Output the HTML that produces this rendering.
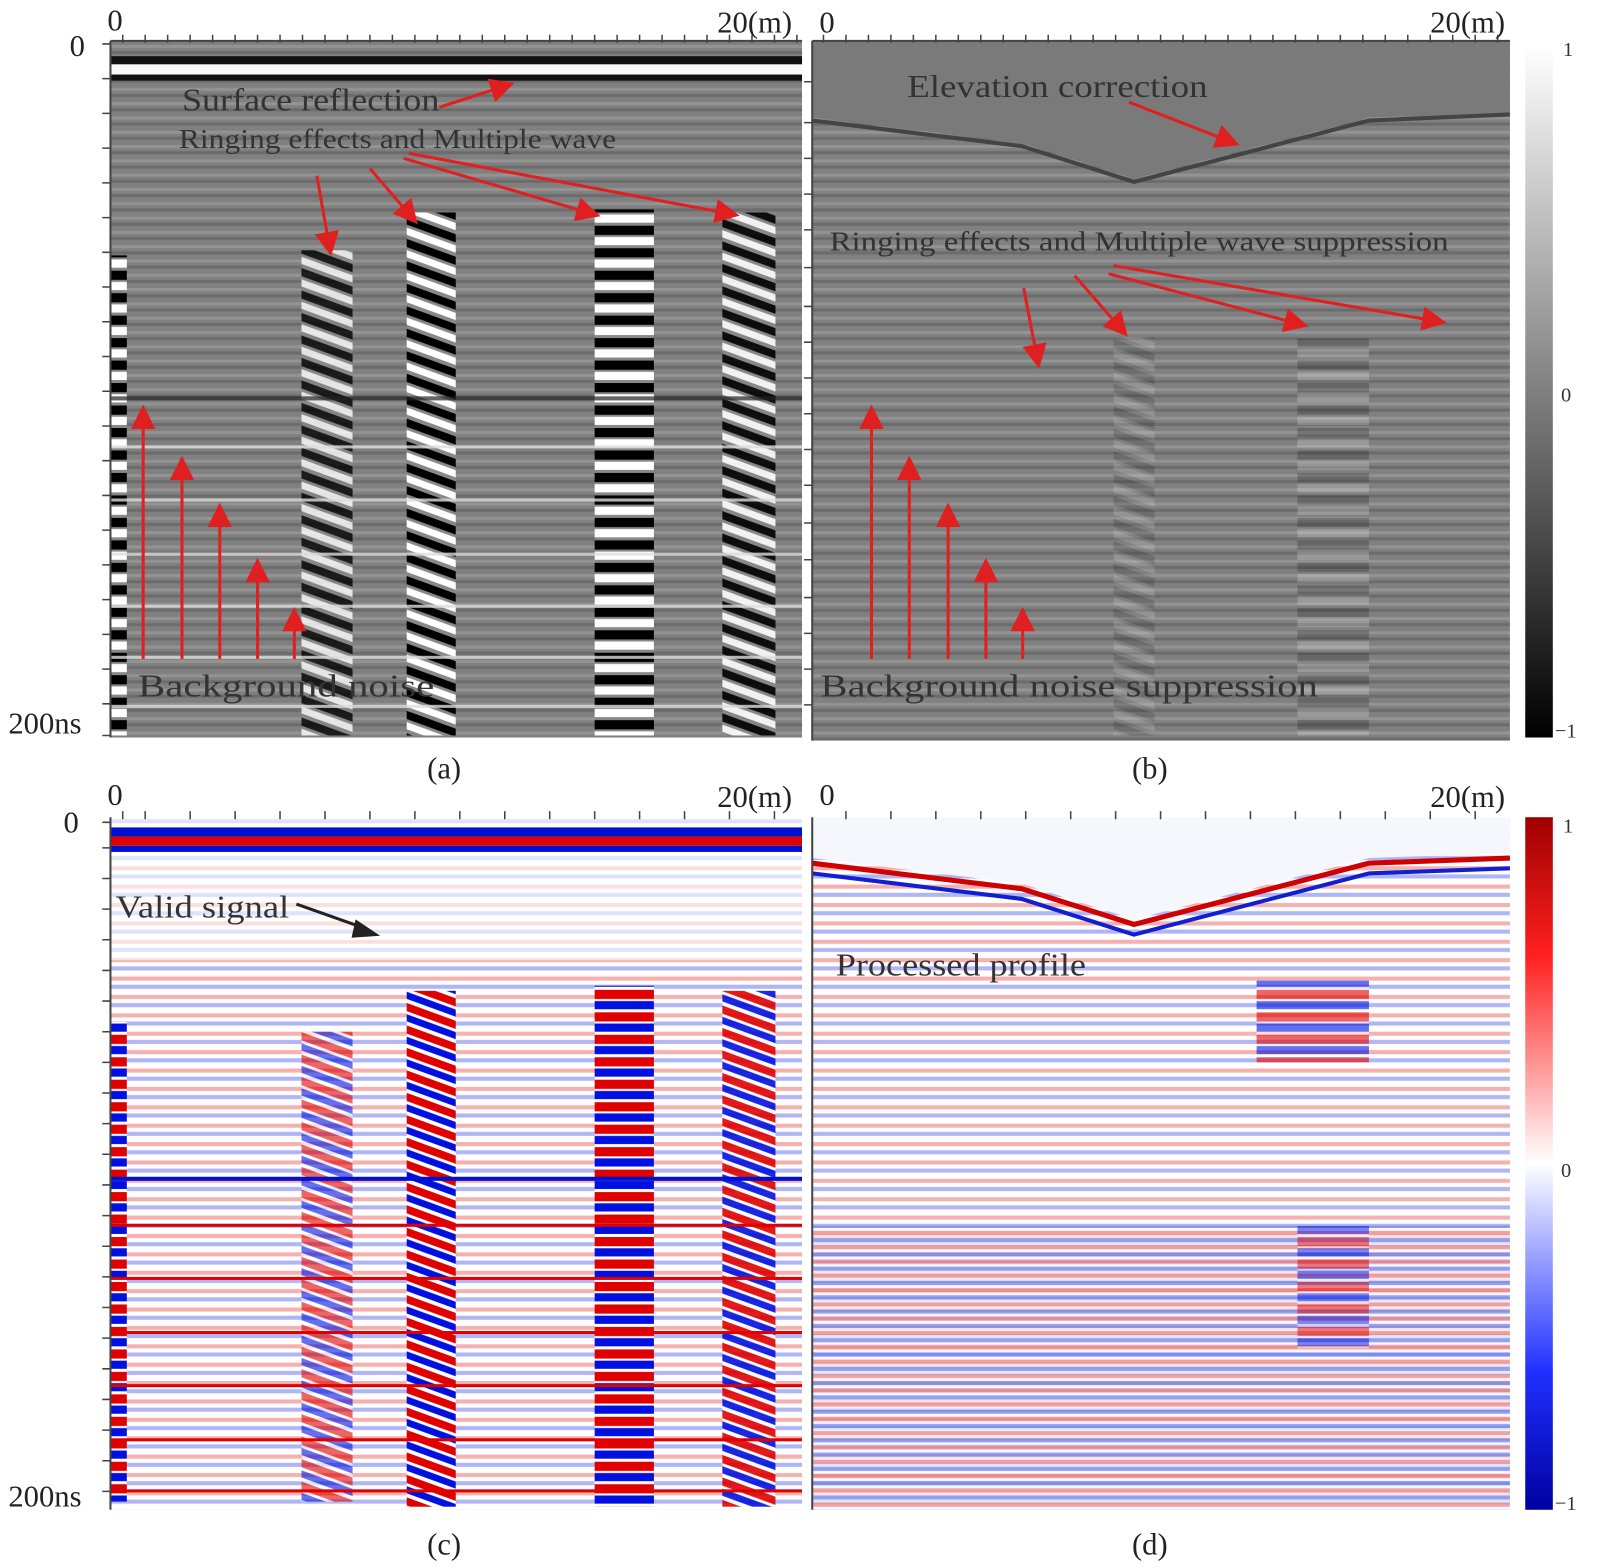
<!DOCTYPE html>
<html><head><meta charset="utf-8"><style>
body{margin:0;background:#fff;width:1602px;height:1568px;overflow:hidden}
svg{display:block}
text{font-family:"Liberation Serif",serif}
</style></head><body>
<svg width="1602" height="1568" viewBox="0 0 1568 1535" xmlns="http://www.w3.org/2000/svg">
<defs>
<pattern id="hgray" width="8" height="14" patternUnits="userSpaceOnUse">
<rect width="8" height="14" fill="#808080"/><rect y="2" width="8" height="3" fill="#939393"/><rect y="8" width="8" height="3" fill="#6c6c6c"/>
</pattern>
<pattern id="bw" width="40" height="22" patternUnits="userSpaceOnUse">
<rect width="40" height="22" fill="#888"/><rect y="1" width="40" height="9" fill="#000"/><rect y="12" width="40" height="8" fill="#fff"/>
</pattern>
<pattern id="bw2" width="40" height="22" patternUnits="userSpaceOnUse" patternTransform="skewY(20)">
<rect width="40" height="22" fill="#888"/><rect y="1" width="40" height="8" fill="#000"/><rect y="12" width="40" height="7" fill="#fff"/>
</pattern>
<pattern id="rb" width="40" height="22" patternUnits="userSpaceOnUse">
<rect width="40" height="22" fill="#fff"/><rect y="1" width="40" height="9" fill="#e00000"/><rect y="12" width="40" height="8" fill="#0010e0"/>
</pattern>
<pattern id="rb2" width="40" height="22" patternUnits="userSpaceOnUse" patternTransform="skewY(20)">
<rect width="40" height="22" fill="#fff"/><rect y="1" width="40" height="8" fill="#e00000"/><rect y="12" width="40" height="7" fill="#0010e0"/>
</pattern>
<pattern id="rbl" width="10" height="18" patternUnits="userSpaceOnUse">
<rect width="10" height="18" fill="#fff"/><rect y="2" width="10" height="4" fill="#f5b0b0"/><rect y="10" width="10" height="4" fill="#b0b6f5"/>
</pattern>
<pattern id="rbd" width="14" height="14" patternUnits="userSpaceOnUse">
<rect width="14" height="14" fill="#f4f4ff"/><rect y="1" width="14" height="4" fill="#ec8080"/><rect y="8" width="14" height="4" fill="#7080e8"/>
</pattern>
<linearGradient id="gbw" x1="0" y1="0" x2="0" y2="1"><stop offset="0" stop-color="#fff"/><stop offset="1" stop-color="#000"/></linearGradient>
<linearGradient id="grb" x1="0" y1="0" x2="0" y2="1"><stop offset="0" stop-color="#a00000"/><stop offset="0.2" stop-color="#ff2020"/><stop offset="0.5" stop-color="#fff"/><stop offset="0.8" stop-color="#2030ff"/><stop offset="1" stop-color="#0000a0"/></linearGradient>
<marker id="ar" markerWidth="8" markerHeight="8" refX="6" refY="4" orient="auto" markerUnits="strokeWidth"><path d="M0,0 L8,4 L0,8 z" fill="#e02020"/></marker>
</defs>

<!-- Panel a -->
<rect x="108" y="40" width="677" height="682" fill="url(#hgray)"/>
<rect x="108" y="55" width="677" height="8" fill="#111"/>
<rect x="108" y="63" width="677" height="10" fill="#fafafa"/>
<rect x="108" y="73" width="677" height="6" fill="#111"/>
<rect x="108" y="250" width="16" height="470" fill="url(#bw)"/>
<rect x="295" y="245" width="50" height="475" fill="url(#bw2)" opacity="0.8"/>
<rect x="398" y="208" width="48" height="512" fill="url(#bw2)"/>
<rect x="582" y="205" width="58" height="515" fill="url(#bw)"/>
<rect x="707" y="208" width="52" height="512" fill="url(#bw2)" opacity="0.9"/>
<g fill="#ddd" opacity="0.8"><rect x="108" y="436" width="677" height="3"/><rect x="108" y="488" width="677" height="3"/><rect x="108" y="541" width="677" height="3"/><rect x="108" y="592" width="677" height="3"/><rect x="108" y="642" width="677" height="3"/><rect x="108" y="690" width="677" height="3"/></g>
<rect x="108" y="388" width="677" height="4" fill="#222" opacity="0.7"/>

<!-- Panel b -->
<rect x="795" y="40" width="683" height="685" fill="url(#hgray)"/>
<path d="M795,40 H1478 V110 L1340,115 L1110,175 L1000,140 L795,115 Z" fill="#7a7a7a"/>
<path d="M795,118 L1000,143 L1110,178 L1340,118 L1478,112" fill="none" stroke="#444" stroke-width="4"/>
<rect x="1270" y="330" width="70" height="390" fill="url(#bw)" opacity="0.2"/>
<rect x="1090" y="330" width="40" height="390" fill="url(#bw2)" opacity="0.15"/>

<!-- colorbars -->
<rect x="1493" y="45" width="27" height="677" fill="url(#gbw)"/>
<rect x="1493" y="800" width="27" height="678" fill="url(#grb)"/>

<!-- Panel c -->
<rect x="108" y="800" width="677" height="678" fill="url(#rbl)"/>
<rect x="108" y="800" width="677" height="140" fill="#fff" opacity="0.6"/>
<rect x="108" y="810" width="677" height="9" fill="#0010d0"/>
<rect x="108" y="819" width="677" height="9" fill="#e00000"/>
<rect x="108" y="828" width="677" height="6" fill="#0010d0"/>
<rect x="108" y="1000" width="16" height="470" fill="url(#rb)"/>
<rect x="295" y="1010" width="50" height="460" fill="url(#rb2)" opacity="0.6"/>
<rect x="398" y="970" width="48" height="505" fill="url(#rb2)"/>
<rect x="582" y="965" width="58" height="510" fill="url(#rb)"/>
<rect x="707" y="970" width="52" height="505" fill="url(#rb2)" opacity="0.9"/>
<g fill="#e00000"><rect x="108" y="1198" width="677" height="3"/><rect x="108" y="1250" width="677" height="3"/><rect x="108" y="1303" width="677" height="3"/><rect x="108" y="1355" width="677" height="3"/><rect x="108" y="1408" width="677" height="3"/><rect x="108" y="1458" width="677" height="3"/></g>
<rect x="108" y="1152" width="677" height="4" fill="#0010d0"/>

<!-- Panel d -->
<rect x="795" y="800" width="683" height="678" fill="url(#rbl)"/>
<rect x="795" y="1200" width="683" height="278" fill="url(#rbd)" opacity="0.75"/>
<path d="M795,800 H1478 V835 L1340,840 L1110,900 L1000,865 L795,840 Z" fill="#f5f7fd"/>
<path d="M795,845 L1000,870 L1110,905 L1340,845 L1478,840" fill="none" stroke="#d00000" stroke-width="5"/>
<path d="M795,855 L1000,880 L1110,915 L1340,855 L1478,850" fill="none" stroke="#1020d0" stroke-width="4"/>
<rect x="1230" y="960" width="110" height="80" fill="url(#rb)" opacity="0.6"/>
<rect x="1270" y="1200" width="70" height="120" fill="url(#rb)" opacity="0.5"/>

<!-- axes ticks -->
<g stroke="#444" stroke-width="2">
<line x1="108" y1="40" x2="785" y2="40"/><line x1="108" y1="40" x2="108" y2="722"/>
<line x1="795" y1="40" x2="1478" y2="40"/><line x1="795" y1="40" x2="795" y2="725"/>
<line x1="108" y1="800" x2="108" y2="1478"/><line x1="795" y1="800" x2="795" y2="1478"/>
</g>
<g stroke="#444" stroke-width="1.5">
<path d="M120 34v8M142 34v8M164 34v8M186 34v8M208 34v8M230 34v8M252 34v8M274 34v8M296 34v8M318 34v8M340 34v8M362 34v8M384 34v8M406 34v8M428 34v8M450 34v8M472 34v8M494 34v8M516 34v8M538 34v8M560 34v8M582 34v8M604 34v8M626 34v8M648 34v8M670 34v8M692 34v8M714 34v8M736 34v8M758 34v8M780 34v8"/>
<path d="M806 34v8M828 34v8M850 34v8M872 34v8M894 34v8M916 34v8M938 34v8M960 34v8M982 34v8M1004 34v8M1026 34v8M1048 34v8M1070 34v8M1092 34v8M1114 34v8M1136 34v8M1158 34v8M1180 34v8M1202 34v8M1224 34v8M1246 34v8M1268 34v8M1290 34v8M1312 34v8M1334 34v8M1356 34v8M1378 34v8M1400 34v8M1422 34v8M1444 34v8M1466 34v8"/>
<path d="M120 794v8M142 794v8M186 794v8M230 794v8M274 794v8M318 794v8M362 794v8M406 794v8M450 794v8M494 794v8M538 794v8M582 794v8M626 794v8M670 794v8M714 794v8M758 794v8"/>
<path d="M828 794v8M872 794v8M916 794v8M960 794v8M1004 794v8M1048 794v8M1092 794v8M1136 794v8M1180 794v8M1224 794v8M1268 794v8M1312 794v8M1356 794v8M1400 794v8M1444 794v8"/>
<path d="M100 43h8M100 77h8M100 111h8M100 145h8M100 179h8M100 213h8M100 247h8M100 281h8M100 315h8M100 349h8M100 383h8M100 417h8M100 451h8M100 485h8M100 519h8M100 553h8M100 587h8M100 621h8M100 655h8M100 689h8M100 720h8"/>
<path d="M787 80h8M787 120h8M787 155h8M787 190h8M787 225h8M787 262h8M787 300h8M787 335h8M787 370h8M787 405h8M787 440h8M787 475h8M787 512h8M787 548h8M787 585h8M787 620h8M787 655h8M787 690h8"/>
<path d="M100 805h8M100 830h8M100 860h8M100 890h8M100 920h8M100 950h8M100 980h8M100 1010h8M100 1040h8M100 1070h8M100 1100h8M100 1130h8M100 1160h8M100 1190h8M100 1220h8M100 1250h8M100 1280h8M100 1310h8M100 1340h8M100 1370h8M100 1400h8M100 1430h8M100 1460h8"/>
</g>

<!-- arrows -->
<g stroke="#e02020" stroke-width="3" fill="none" marker-end="url(#ar)">
<line x1="430" y1="105" x2="498" y2="83"/>
<line x1="310" y1="172" x2="323" y2="245"/>
<line x1="362" y1="165" x2="405" y2="215"/>
<line x1="395" y1="155" x2="582" y2="210"/>
<line x1="400" y1="150" x2="718" y2="210"/>
<line x1="140" y1="645" x2="140" y2="402"/>
<line x1="178" y1="645" x2="178" y2="452"/>
<line x1="215" y1="645" x2="215" y2="498"/>
<line x1="252" y1="645" x2="252" y2="552"/>
<line x1="288" y1="645" x2="288" y2="600"/>
<line x1="1105" y1="100" x2="1208" y2="140"/>
<line x1="1002" y1="282" x2="1016" y2="355"/>
<line x1="1052" y1="270" x2="1100" y2="325"/>
<line x1="1085" y1="268" x2="1275" y2="318"/>
<line x1="1090" y1="260" x2="1410" y2="315"/>
<line x1="853" y1="645" x2="853" y2="402"/>
<line x1="890" y1="645" x2="890" y2="452"/>
<line x1="928" y1="645" x2="928" y2="498"/>
<line x1="965" y1="645" x2="965" y2="552"/>
<line x1="1001" y1="645" x2="1001" y2="600"/>
</g>
<line x1="290" y1="885" x2="355" y2="908" stroke="#222" stroke-width="3"/>
<path d="M348,900 L372,916 L344,918 z" fill="#222"/>

<!-- text -->
<g font-size="30" fill="#222">
<text x="105" y="30">0</text><text x="702" y="32">20(m)</text>
<text x="802" y="32">0</text><text x="1400" y="32">20(m)</text>
<text x="105" y="788">0</text><text x="702" y="790">20(m)</text>
<text x="802" y="788">0</text><text x="1400" y="790">20(m)</text>
<text x="68" y="55">0</text><text x="8" y="718">200ns</text>
<text x="62" y="815">0</text><text x="8" y="1475">200ns</text>
<text x="418" y="762">(a)</text><text x="1108" y="762">(b)</text>
<text x="418" y="1522">(c)</text><text x="1108" y="1522">(d)</text>
</g>
<g font-size="31" fill="#333">
<text x="178" y="108" textLength="252" lengthAdjust="spacingAndGlyphs">Surface reflection</text>
<text x="175" y="145" font-size="27" textLength="428" lengthAdjust="spacingAndGlyphs">Ringing effects and Multiple wave</text>
<text x="135" y="682" textLength="290" lengthAdjust="spacingAndGlyphs">Background noise</text>
<text x="888" y="95" textLength="294" lengthAdjust="spacingAndGlyphs">Elevation correction</text>
<text x="812" y="245" font-size="27" textLength="606" lengthAdjust="spacingAndGlyphs">Ringing effects and Multiple wave suppression</text>
<text x="803" y="682" textLength="487" lengthAdjust="spacingAndGlyphs">Background noise suppression</text>
<text x="113" y="898" textLength="170" lengthAdjust="spacingAndGlyphs">Valid signal</text>
<text x="818" y="955" textLength="245" lengthAdjust="spacingAndGlyphs">Processed profile</text>
</g>
<g font-size="20" fill="#333">
<text x="1530" y="55">1</text><text x="1528" y="393">0</text><text x="1522" y="722">−1</text>
<text x="1530" y="815">1</text><text x="1528" y="1152">0</text><text x="1522" y="1478">−1</text>
</g>
</svg>
</body></html>
